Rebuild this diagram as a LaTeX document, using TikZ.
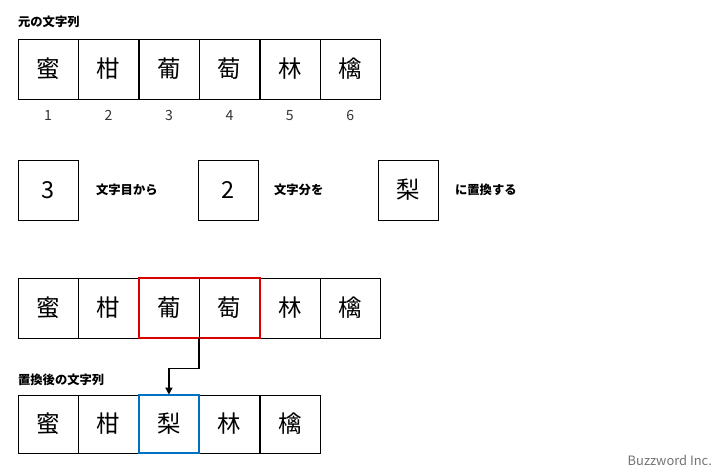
\documentclass[tikz,border=0pt]{standalone}
\usepackage{fontspec}
\setmainfont{Noto Sans CJK JP}
\usetikzlibrary{positioning,arrows.meta}
\definecolor{boxblue}{RGB}{0,112,192}
\begin{document}
\begin{tikzpicture}[x=0.03cm,y=-0.03cm,node distance=0cm,>={Triangle[length=6pt,width=6pt]}]
  \tikzstyle{cell}=[draw,thin,minimum width=1.8cm,minimum height=1.8cm,inner sep=0pt,font=\fontsize{20}{20}\selectfont]
  \tikzstyle{small cell}=[cell,minimum height=1.75cm]
  \tikzstyle{title}=[anchor=west,font=\bfseries\fontsize{10.5}{11}\selectfont]
  \tikzstyle{num}=[font=\fontsize{12}{12}\selectfont,text=black!80]
  \useasboundingbox (0,0) rectangle (728,474);
  % original string
  \node [title] (t1) at (14,22) {元の文字列};
  \node [cell] (a1) at (48,69) {蜜};
  \node [cell,right=of a1] (a2) {柑};
  \node [cell,right=of a2] (a3) {葡};
  \node [cell,right=of a3] (a4) {萄};
  \node [cell,right=of a4] (a5) {林};
  \node [cell,right=of a5] (a6) {檎};
  \foreach \i in {1,...,6}
    \node [num,below=6pt of a\i] (n\i) {\i};
  % parameters
  \node [cell] (p1) at (48,190) {3};
  \node [title] (l1) at (92,190) {文字目から};
  \node [cell] (p2) at (228,190) {2};
  \node [title] (l2) at (270,190) {文字分を};
  \node [cell] (p3) at (408,190) {梨};
  \node [title] (l3) at (451,190) {に置換する};
  % target range
  \node [cell] (b1) at (48,308) {蜜};
  \node [cell,right=of b1] (b2) {柑};
  \node [cell,right=of b2] (b3) {葡};
  \node [cell,right=of b3] (b4) {萄};
  \node [cell,right=of b4] (b5) {林};
  \node [cell,right=of b5] (b6) {檎};
  \draw [red!85!black,line width=1.6pt] (b3.north west) rectangle (b4.south east);
  % result
  \node [title] (t2) at (14,380) {置換後の文字列};
  \node [small cell] (c1) at (48,424) {蜜};
  \node [small cell,right=of c1] (c2) {柑};
  \node [small cell,right=of c2] (c3) {梨};
  \node [small cell,right=of c3] (c4) {林};
  \node [small cell,right=of c4] (c5) {檎};
  \draw [boxblue,line width=1.6pt] (c3.north west) rectangle (c3.south east);
  \draw [->,line width=1.2pt] (b3.south east) -- ++(0,30) -| (c3.north);
  \node [anchor=east,text=black!55,font=\fontsize{11}{12}\selectfont] (brand) at (716,460) {Buzzword Inc.};
\end{tikzpicture}
\end{document}
